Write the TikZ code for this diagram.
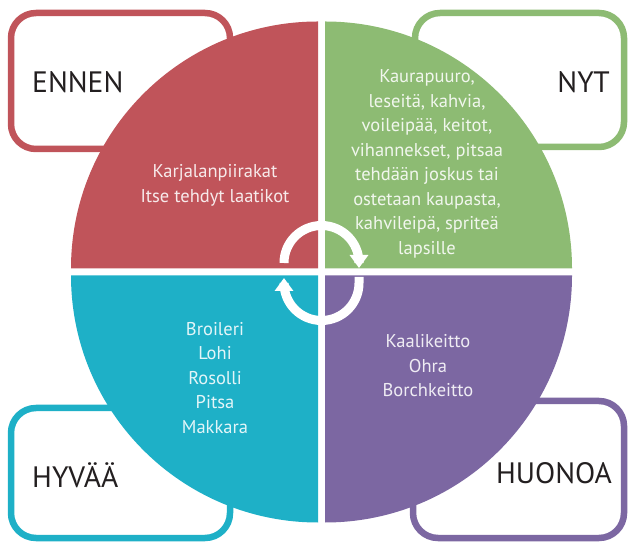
\documentclass[tikz,border=0pt]{standalone}
\usepackage{fontspec}
\setmainfont{PT Sans}
\usetikzlibrary{arrows.meta}
\definecolor{ennenred}{HTML}{C0545A}
\definecolor{nytgreen}{HTML}{8DBB73}
\definecolor{hyvacyan}{HTML}{1EB0C7}
\definecolor{huonopurple}{HTML}{7C67A2}
\definecolor{labelblack}{HTML}{231F20}
\begin{document}
\begin{tikzpicture}[x=1pt,y=1pt,
  box/.style={line width=6.5pt,rounded corners=25pt,fill=white},
  heading/.style={text=labelblack,font=\fontsize{29.5}{32}\selectfont,inner sep=0pt},
  foods/.style={text=white,text opacity=0.88,align=center,font=\fontsize{18.5}{24.5}\selectfont},
  ring/.style={white,line width=9pt}]
  \useasboundingbox (0,0) rectangle (628,543);
  % corner boxes, behind the circle
  \draw[box,draw=ennenred] (11,394) rectangle (230,530);
  \draw[box,draw=nytgreen] (415,396) rectangle (624,530);
  \draw[box,draw=hyvacyan] (11,5) rectangle (230,135);
  \draw[box,draw=huonopurple] (413,5) rectangle (624,142);
  \node[heading,anchor=west] (ennen) at (32,461) {ENNEN};
  \node[heading,anchor=east] (nyt) at (610,461) {NYT};
  \node[heading,anchor=west] (hyvaa) at (32,68) {HYVÄÄ};
  \node[heading,anchor=east] (huonoa) at (612,70) {HUONOA};
  % the four quarters
  \fill[ennenred] (318,274.5) -- ++(-247,0) arc[start angle=180,end angle=90,radius=247] -- cycle;
  \fill[nytgreen] (325,274.5) -- ++(0,247) arc[start angle=90,end angle=0,radius=247] -- cycle;
  \fill[hyvacyan] (318,267.5) -- ++(-247,0) arc[start angle=180,end angle=270,radius=247] -- cycle;
  \fill[huonopurple] (325,267.5) -- ++(247,0) arc[start angle=0,end angle=-90,radius=247] -- cycle;
  \node[foods] (ennenfoods) at (215,357.5) {Karjalanpiirakat\\Itse tehdyt laatikot};
  \node[foods] (nytfoods) at (427,379) {Kaurapuuro,\\leseitä, kahvia,\\voileipää, keitot,\\vihannekset, pitsaa\\tehdään joskus tai\\ostetaan kaupasta,\\kahvileipä, spriteä\\lapsille};
  \node[foods] (hyvaafoods) at (215,165) {Broileri\\Lohi\\Rosolli\\Pitsa\\Makkara};
  \node[foods] (huonoafoods) at (428,177) {Kaalikeitto\\Ohra\\Borchkeitto};
  % turning arrows in the middle
  \draw[ring,-{Triangle[width=18pt,length=13pt]}] (284,280) arc[start angle=180,end angle=0,radius=37.5] -- ++(0,-5);
  \draw[ring,-{Triangle[width=18pt,length=13pt]}] (359,266) -- (359,260) arc[start angle=0,end angle=-180,radius=37.5] -- ++(0,5);
\end{tikzpicture}
\end{document}
